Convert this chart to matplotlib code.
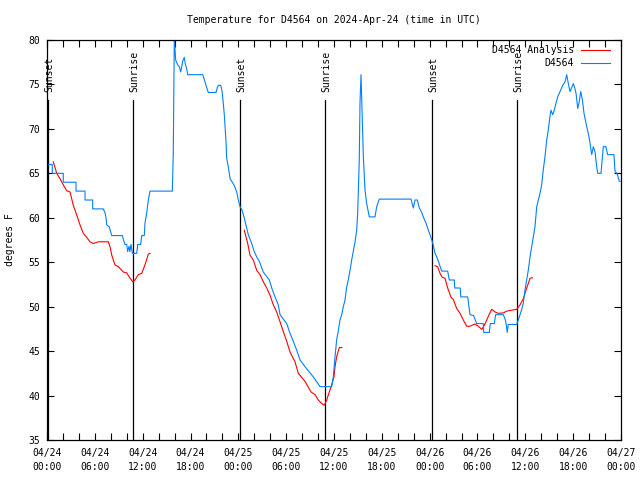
import matplotlib
matplotlib.use("Agg")
import matplotlib.pyplot as plt
from matplotlib.ticker import MultipleLocator
import numpy as np
from datetime import datetime, timedelta

# hours after 2024-04-24 00:00 UTC
blue_hours = [0.13, 0.66, 0.66, 2.04, 2.04, 3.64, 3.64, 4.77, 4.77, 5.73, 5.73, 7.06, 7.3, 7.4, 7.49, 7.8,
              8.12, 9.45, 9.6, 9.78, 10.0, 10.12, 10.29, 10.4, 10.54, 10.7, 11.25, 11.38, 11.75, 11.88,
              12.2, 12.29, 12.5, 12.71, 12.92, 15.72, 15.84, 15.93, 15.97, 16.05, 16.14, 16.39, 16.6,
              16.77, 16.9, 17.02, 17.22, 17.35, 17.52, 17.65, 19.53, 19.75, 19.94, 20.23, 21.2, 21.35,
              21.49, 21.79, 21.95, 22.04, 22.24, 22.45, 22.54, 22.74, 22.96, 23.17, 23.5, 23.8, 24.0,
              24.21, 24.45, 24.71, 25.0, 25.25, 25.68, 26.0, 26.3, 26.63, 27.13, 27.89, 28.19, 28.6,
              29.01, 29.23, 30.07, 30.48, 30.9, 31.32, 31.74, 32.49, 33.4, 34.25, 35.71, 35.91, 36.13,
              36.34, 36.54, 36.75, 36.97, 37.17, 37.38, 37.59, 37.79, 38.01, 38.22, 38.42, 38.64, 38.85,
              38.97, 39.05, 39.17, 39.26, 39.39, 39.48, 39.68, 39.89, 40.1, 40.43, 41.14, 41.36, 41.68,
              45.66, 45.95, 46.16, 46.45, 46.7, 46.95, 47.2, 47.54, 47.83, 48.13, 48.46, 48.67, 48.88,
              49.17, 49.51, 50.26, 50.46, 51.09, 51.15, 51.83, 51.9, 52.77, 52.9, 53.06, 53.5, 53.9,
              54.73, 54.78, 55.48, 55.6, 56.1, 56.28, 57.24, 57.5, 57.6, 57.73, 57.85, 58.92, 59.12,
              59.33, 59.55, 59.75, 59.96, 60.17, 60.37, 60.59, 60.8, 61.0, 61.21, 61.43, 61.63, 61.84,
              62.05, 62.25, 62.47, 62.68, 62.88, 63.09, 63.22, 63.43, 63.63, 63.85, 64.06, 64.35, 64.69,
              64.98, 65.19, 65.39, 65.61, 65.8, 66.02, 66.2, 66.36, 66.57, 66.75, 66.95, 67.15, 67.36,
              67.7, 67.99, 68.24, 68.33, 68.53, 68.75, 68.95, 69.08, 69.49, 69.78, 70.1, 70.33, 71.12,
              71.25, 71.5, 71.79, 71.88]
blue_temp = [66, 66, 65, 65, 64, 64, 63, 63, 62, 62, 61, 61, 60.5, 60, 59.2, 59,
             58, 58, 57.5, 57, 57, 56.2, 56.8, 56.2, 57, 56, 56, 57, 57, 58,
             58, 59.4, 60.5, 62, 63, 63, 67.3, 75.9, 80.5, 79, 77.75, 77.2, 77,
             76.4, 77, 77.6, 78.05, 77.3, 76.8, 76.1, 76.1, 75.5, 74.9, 74.1, 74.1, 74.6,
             74.9, 74.9, 74.3, 73.6, 71.6, 68.6, 66.7, 65.75, 64.4, 64.1, 63.6, 62.9, 62.0,
             61.25, 60.9, 60.1, 59.0, 58.1, 57.1, 56.2, 55.6, 55.1, 53.9, 53.0, 52.1, 51.1,
             50.2, 49.1, 48.1, 47.0, 46.1, 45.1, 44.0, 43.1, 42.1, 41.0, 41.0, 42.1, 44.4,
             46.3, 47.3, 48.5, 49.1, 50.0, 50.75, 52.2, 53.0, 54.1, 55.25, 56.2, 57.3, 58.6,
             60.5, 62.75, 66.5, 72.9, 76.1, 73.25, 66.9, 63.1, 61.6, 60.1, 60.1, 61.25, 62.1,
             62.1, 61.1, 62.0, 62.0, 61.1, 60.7, 60.1, 59.4, 58.6, 57.9, 56.9, 56.0, 55.6,
             54.9, 54.0, 54.0, 53.0, 53.0, 52.1, 52.1, 51.1, 51.1, 50.2, 49.1, 49.0, 48.1,
             48.1, 47.1, 47.1, 48.1, 48.1, 49.1, 49.1, 48.5, 48.0, 47.1, 48.0, 48.0, 48.5,
             49.1, 49.7, 50.4, 51.9, 53.0, 54.1, 55.6, 56.75, 57.9, 59.0, 61.25, 62.0, 62.75,
             63.7, 65.4, 66.9, 68.75, 69.9, 71.4, 72.1, 71.6, 72.1, 72.9, 73.6, 74.2, 74.9,
             75.3, 76.1, 75.1, 74.2, 74.6, 75.1, 74.6, 74.0, 72.3, 73.0, 74.2, 73.3, 71.75,
             70.25, 69.1, 67.6, 67.1, 68.0, 67.4, 65.75, 65.0, 65.0, 68.0, 68.0, 67.1, 67.1,
             65.2, 65.0, 64.1, 64.1]

# analysis runs, nan separates the three pieces
red_hours = [0.79, 1.22, 1.63, 2.04, 2.47, 2.89, 3.3, 3.73, 4.14, 4.55, 4.98, 5.39, 5.81, 6.44, 7.69,
             7.9, 8.12, 8.53, 8.94, 9.57, 10.0, 10.41, 10.75, 11.04, 11.45, 11.88, 12.29, 12.71, 12.92,
             np.nan,
             24.75, 25.18, 25.46, 25.88, 26.3, 26.72, 27.13, 27.56, 27.97, 28.39, 28.81, 29.23, 29.64,
             30.07, 30.48, 31.11, 31.52, 32.36, 33.12, 33.62, 34.03, 34.46, 34.78, 35.09, 35.41, 35.71,
             36.0, 36.13, 36.34, 36.67, 36.97,
             np.nan,
             48.67, 49.0, 49.3, 49.58, 49.92, 50.26, 50.68, 50.97, 51.39, 51.81, 52.22, 52.65, 53.06,
             53.69, 54.1, 54.53, 54.86, 55.16, 55.45, 55.78, 56.2, 56.61, 57.24, 57.67, 58.29, 58.92,
             59.33, 59.75, 59.96, 60.17, 60.37, 60.59, 60.88]
red_temp = [66.3, 65.0, 64.4, 63.7, 63.05, 62.9, 61.4, 60.3, 59.2, 58.25, 57.8, 57.3, 57.1, 57.3, 57.3,
            56.75, 55.8, 54.7, 54.5, 53.9, 53.8, 53.2, 52.8, 53.0, 53.6, 53.75, 54.7, 55.9, 56.0,
            np.nan,
            58.6, 57.1, 55.8, 55.25, 54.1, 53.6, 52.8, 52.1, 51.3, 50.2, 49.4, 48.3, 47.2,
            46.1, 44.9, 43.8, 42.5, 41.6, 40.4, 40.1, 39.5, 39.1, 38.9, 39.5, 40.4, 41.2,
            42.1, 43.25, 44.4, 45.4, 45.4,
            np.nan,
            54.6, 54.5, 53.75, 53.3, 53.2, 52.1, 51.05, 50.8, 49.8, 49.25, 48.5, 47.8, 47.8,
            48.05, 47.8, 47.45, 47.9, 48.5, 49.1, 49.7, 49.4, 49.25, 49.3, 49.5, 49.6, 49.7,
            50.2, 50.9, 51.5, 52.1, 52.6, 53.2, 53.25]

sun_hours = [0.13, 10.83, 24.21, 34.87, 48.33, 58.92]
sun_names = ["Sunset", "Sunrise", "Sunset", "Sunrise", "Sunset", "Sunrise"]

start = datetime(2024, 4, 24)
tick_hours = list(range(0, 73, 6))

plt.rcParams["font.family"] = "DejaVu Sans Mono"
plt.rcParams["font.size"] = 7

fig = plt.figure(figsize=(6.4, 4.8), dpi=100)
ax = fig.add_axes([47 / 640, 40 / 480, 574 / 640, 400 / 480])

for h, name in zip(sun_hours, sun_names):
    ax.plot([h, h], [35, 73.25], color="black", lw=0.9)
    ax.text(h + 0.15, 74.15, name, rotation=90, ha="center", va="bottom")

ax.plot(red_hours, red_temp, color="#ff0000", lw=0.8)
ax.plot(blue_hours, blue_temp, color="#0080ff", lw=0.8)

# legend, gnuplot style (text right of the sample line)
ax.text(0.918, 0.975, "D4564 Analysis", transform=ax.transAxes, ha="right", va="center")
ax.plot([0.930, 0.981], [0.975, 0.975], transform=ax.transAxes, color="#ff0000", lw=0.8)
ax.text(0.918, 0.9425, "D4564", transform=ax.transAxes, ha="right", va="center")
ax.plot([0.930, 0.981], [0.9425, 0.9425], transform=ax.transAxes, color="#0080ff", lw=0.8)

ax.set_xlim(0, 72)
ax.set_ylim(35, 80)
ax.set_xticks(tick_hours)
ax.set_xticklabels([(start + timedelta(hours=h)).strftime("%m/%d\n%H:%M") for h in tick_hours],
                   linespacing=1.5)
ax.xaxis.set_minor_locator(MultipleLocator(2))
ax.set_yticks(range(35, 81, 5))
ax.tick_params(which="both", direction="in", top=True, right=True, length=5, width=0.8)
ax.tick_params(axis="x", pad=6)
ax.tick_params(axis="y", pad=5)
for s in ax.spines.values():
    s.set_linewidth(0.9)

fig.text(334 / 640, 1 - 20 / 480, "Temperature for D4564 on 2024-Apr-24 (time in UTC)",
         ha="center", va="center")
fig.text(10 / 640, 0.5, "degrees F", rotation=90, ha="center", va="center")

fig.savefig("out.png", dpi=100)
